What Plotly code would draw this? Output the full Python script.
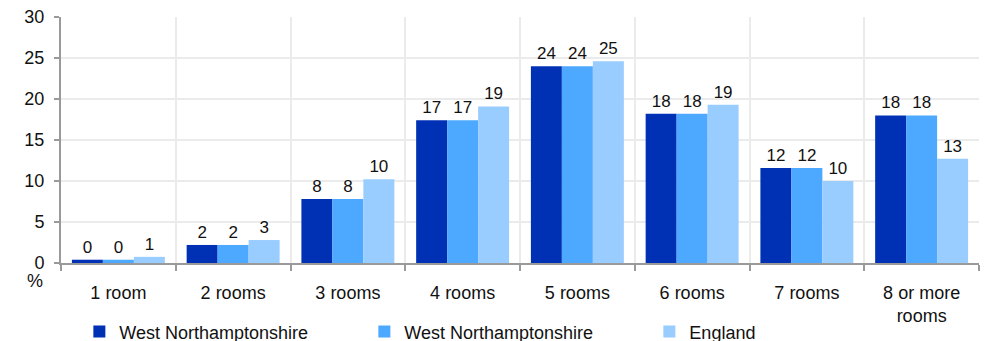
import plotly.graph_objects as go

categories = ["1 room", "2 rooms", "3 rooms", "4 rooms", "5 rooms", "6 rooms", "7 rooms", "8 or more<br>rooms"]
series_names = ["West Northamptonshire", "West Northamptonshire", "England"]
wn_a = [0.4, 2.2, 7.8, 17.4, 24.0, 18.2, 11.6, 18.0]
wn_b = [0.4, 2.2, 7.8, 17.4, 24.0, 18.2, 11.6, 18.0]
england = [0.75, 2.8, 10.2, 19.1, 24.6, 19.3, 10.0, 12.7]
y_ticks = [0, 5, 10, 15, 20, 25, 30]
colors = ["#0031B4", "#4DA8FF", "#99CCFF"]

fig = go.Figure()
for name, vals, col in zip(series_names, [wn_a, wn_b, england], colors):
    fig.add_trace(go.Bar(
        x=categories, y=vals, name=name, marker_color=col, marker_line_width=0,
        texttemplate="%{y:.0f}", textposition="outside",
        textfont=dict(size=17, color="#111"), cliponaxis=False,
    ))

fig.update_layout(
    width=991, height=341,
    margin=dict(l=53, r=20, t=9, b=86, autoexpand=False),
    paper_bgcolor="white", plot_bgcolor="white",
    font=dict(family="Liberation Sans, Arial, sans-serif", size=17, color="#111"),
    barmode="group", bargap=0.19, bargroupgap=0,
    showlegend=True,
    legend=dict(orientation="h", x=0.02, xanchor="left", y=-0.28, yanchor="middle",
                entrywidth=240, font=dict(size=18), itemsizing="constant",
                traceorder="normal", tracegroupgap=0, bgcolor="rgba(0,0,0,0)"),
    uniformtext=dict(mode=False),
)
fig.update_xaxes(
    type="category", tickson="boundaries", showgrid=True, gridcolor="#ebebeb", gridwidth=2,
    showline=True, linecolor="#9a9a9a", linewidth=2,
    ticks="outside", ticklen=6, tickcolor="#9a9a9a", tickwidth=2,
    tickfont=dict(size=18), ticklabelstandoff=12, automargin=False,
    ticklabeloverflow="allow",
)
fig.update_yaxes(
    range=[0, 30], tickvals=y_ticks, showgrid=True, gridcolor="#ebebeb", gridwidth=2,
    showline=True, linecolor="#9a9a9a", linewidth=2,
    ticks="outside", ticklen=5, tickcolor="#9a9a9a", tickwidth=2,
    tickfont=dict(size=18), zeroline=False, ticklabelstandoff=6, automargin=False,
    ticklabeloverflow="allow",
)
fig.add_annotation(text="%", xref="paper", yref="paper", x=-0.028, y=-0.025,
                   xanchor="center", yanchor="top", showarrow=False, font=dict(size=18))
fig.write_html("out.html")
